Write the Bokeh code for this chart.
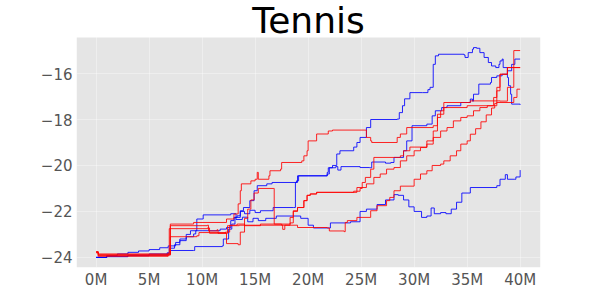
from bokeh.plotting import figure
from bokeh.models import Range1d, FixedTicker, Label, BoxAnnotation
from bokeh.embed import file_html
from bokeh.resources import INLINE

# ---- data (x in millions of steps, y = score) ----
b1_x = [0, 1, 3, 5, 6.7, 7.0, 9.2, 9.3, 11.9, 12.0, 12.5, 12.8, 13.1, 13.6, 13.9, 14.5, 14.9, 15.2, 16.1, 16.6, 18.9, 19.1, 21.8, 21.9, 22.3, 22.7, 23.0, 24.3, 24.6, 24.9, 25.5, 25.9, 28.4, 28.6, 28.9, 29.1, 29.6, 30.8, 31.3, 31.5, 31.8, 32.0, 32.3, 34.7, 34.8, 35.1, 35.5, 35.6, 35.9, 36.2, 36.6, 37.0, 37.3, 37.7, 38.0, 38.1, 38.3, 38.4, 38.8, 38.9, 39.1, 39.2, 40]
b1_y = [-24.0, -23.97, -23.93, -23.9, -23.85, -23.7, -23.7, -23.53, -23.5, -23.2, -22.77, -22.55, -22.26, -21.97, -21.83, -21.53, -21.1, -20.88, -20.8, -20.74, -20.67, -20.45, -20.3, -20.1, -20.0, -19.5, -19.36, -19.2, -19.0, -18.78, -18.35, -18.0, -17.98, -17.7, -17.4, -17.1, -16.83, -16.83, -16.7, -16.6, -15.6, -15.23, -15.16, -15.19, -15.3, -15.09, -14.94, -14.87, -14.9, -15.09, -15.3, -15.52, -15.67, -15.74, -15.6, -15.45, -15.37, -15.74, -16.17, -16.53, -16.9, -17.33, -17.36]

b2_x = [0, 1, 3, 5, 6.7, 6.9, 7.4, 7.9, 8.5, 9.2, 9.4, 11.7, 12.3, 12.7, 13.0, 13.3, 13.6, 14.0, 14.5, 15.0, 15.5, 16.7, 18.6, 18.8, 19.0, 21.8, 22.0, 22.6, 22.8, 23.1, 24.9, 25.8, 26.0, 27.3, 27.8, 28.1, 29.0, 29.3, 29.8, 31.2, 31.7, 32.0, 32.6, 33.1, 34.4, 35.3, 35.5, 35.6, 36.1, 37.2, 37.3, 37.8, 38.3, 38.8, 39.2, 39.5, 40]
b2_y = [-24.0, -23.95, -23.9, -23.85, -23.8, -23.6, -23.45, -23.27, -23.1, -22.98, -22.84, -22.77, -22.7, -22.4, -22.26, -22.19, -22.0, -22.1, -21.95, -22.05, -21.97, -21.83, -21.83, -20.74, -20.45, -20.37, -20.1, -20.05, -20.2, -20.05, -20.09, -20.1, -19.85, -19.9, -19.87, -19.65, -19.36, -18.93, -18.27, -18.2, -17.84, -17.62, -17.48, -17.4, -17.26, -17.11, -17.2, -16.9, -16.46, -16.39, -16.17, -16.1, -16.03, -15.88, -15.6, -15.37, -15.37]

b3_x = [0, 1, 2, 3, 4, 5, 6, 6.8, 7.5, 7.9, 8.5, 8.9, 9.5, 10.1, 12.7, 13.2, 13.8, 14.3, 14.8, 15.3, 16, 17, 19.3, 20, 20.5, 21.8, 22.1, 24, 24.9, 25.5, 26.5, 27.3, 28.1, 28.5, 29, 29.5, 30, 30.7, 31.2, 31.6, 31.9, 32.5, 33, 33.5, 34, 34.5, 35.3, 37.8, 38.1, 38.6, 38.8, 39.5, 39.6, 40]
b3_y = [-24.0, -23.92, -23.85, -23.78, -23.72, -23.66, -23.58, -23.5, -23.35, -23.2, -23.0, -22.84, -22.33, -22.15, -22.1, -22.35, -22.25, -22.45, -22.3, -22.4, -22.3, -22.2, -22.3, -22.6, -22.72, -22.72, -22.5, -22.45, -22.0, -21.9, -21.7, -21.5, -21.27, -21.3, -21.5, -21.8, -22.0, -22.26, -22.2, -21.85, -22.1, -22.05, -22.1, -21.9, -21.6, -21.2, -20.96, -20.88, -20.6, -20.4, -20.6, -20.6, -20.5, -20.2]

r1_x = [0, 0.2, 6.8, 7.0, 9.2, 12.3, 13.0, 13.4, 13.6, 13.7, 14.6, 15.0, 15.2, 15.3, 16.3, 16.4, 17.4, 17.5, 19.4, 19.6, 19.9, 20.0, 20.8, 21.9, 22.3, 25.5, 25.9, 26.0, 28.4, 28.7, 29.3, 31.8, 32.2, 32.8, 35.3, 38.1, 38.8, 39.4, 40]
r1_y = [-23.75, -23.88, -23.85, -22.55, -22.48, -22.33, -22.11, -21.67, -21.1, -20.8, -20.67, -20.6, -20.3, -20.6, -20.45, -20.23, -20.16, -19.87, -19.8, -19.58, -19.36, -18.93, -18.63, -18.5, -18.46, -18.78, -18.93, -19.0, -18.78, -18.63, -18.35, -18.27, -17.77, -17.26, -17.19, -17.2, -16.6, -15.0, -15.0]

r2_x = [0, 0.2, 6.8, 6.9, 10.5, 10.7, 12.2, 12.4, 13.5, 18.2, 18.3, 18.6, 19.0, 19.6, 19.9, 20.2, 20.8, 24.0, 24.6, 25.5, 26.2, 26.8, 27.4, 28.1, 28.7, 29.3, 30.0, 30.6, 31.2, 31.8, 32.5, 33.1, 33.7, 34.4, 35.0, 35.6, 36.2, 36.9, 37.8, 39.4, 39.7, 40]
r2_y = [-23.78, -23.85, -23.82, -22.75, -22.72, -22.95, -22.9, -22.62, -22.6, -22.6, -22.26, -21.97, -21.83, -21.53, -21.3, -21.24, -21.17, -21.17, -20.96, -20.8, -20.52, -20.37, -20.16, -20.09, -19.8, -19.58, -19.36, -19.22, -18.93, -18.78, -18.5, -18.35, -18.06, -17.91, -17.84, -17.62, -17.48, -17.4, -17.26, -17.04, -16.68, -16.68]

r3_x = [0, 0.2, 6.8, 7.0, 9.5, 9.7, 12.2, 12.3, 13.4, 13.6, 14.0, 14.3, 14.6, 14.9, 15.3, 16.7, 16.8, 18.3, 18.6, 19.0, 19.6, 19.9, 20.2, 20.8, 24.3, 24.9, 25.1, 25.4, 25.9, 26.2, 28.7, 29.0, 29.6, 31.2, 31.8, 32.2, 32.5, 32.8, 35.0, 37.5, 37.8, 38.1, 38.8, 40]
r3_y = [-23.8, -23.95, -23.9, -23.1, -23.06, -22.92, -22.95, -23.4, -23.45, -22.9, -22.3, -21.9, -21.5, -21.2, -21.0, -21.0, -22.55, -22.5, -22.0, -21.83, -21.53, -21.3, -21.24, -21.17, -21.12, -21.0, -20.74, -20.52, -20.16, -19.65, -19.58, -19.36, -19.2, -19.07, -18.5, -17.91, -17.62, -17.48, -17.4, -17.04, -16.75, -16.03, -15.74, -15.74]

r4_x = [0, 0.2, 6.8, 7.0, 10.5, 10.6, 11.4, 11.5, 12.4, 12.6, 13.3, 14.0, 15.5, 17.5, 17.6, 17.8, 19.0, 21.8, 22.0, 23.4, 23.5, 23.7, 24.6, 25.9, 26.5, 27.4, 27.7, 28.1, 28.7, 30.0, 30.6, 31.2, 31.7, 32.5, 32.8, 33.4, 34.0, 34.4, 35.0, 35.3, 35.8, 36.3, 36.8, 37.3, 37.6, 37.8, 38.1, 38.8, 40]
r4_y = [-23.76, -23.92, -23.88, -22.62, -22.6, -22.85, -22.8, -22.95, -22.9, -22.6, -22.55, -22.62, -22.55, -22.6, -22.78, -22.6, -22.7, -22.72, -22.85, -22.88, -22.48, -22.4, -22.26, -21.97, -21.75, -21.53, -21.39, -21.1, -20.9, -20.6, -20.37, -20.23, -20.0, -19.94, -19.8, -19.58, -19.36, -19.07, -18.93, -18.64, -18.4, -18.1, -17.8, -17.5, -17.3, -16.6, -16.03, -15.74, -15.74]

blue_series = [(b1_x, b1_y), (b2_x, b2_y), (b3_x, b3_y)]
red_series = [(r1_x, r1_y), (r2_x, r2_y), (r3_x, r3_y), (r4_x, r4_y)]

x_ticks = [0, 5, 10, 15, 20, 25, 30, 35, 40]
x_tick_labels = ["0M", "5M", "10M", "15M", "20M", "25M", "30M", "35M", "40M"]
y_ticks = [-24, -22, -20, -18, -16]
y_tick_labels = ["\u221224", "\u221222", "\u221220", "\u221218", "\u221216"]
title_text = "Tennis"

# plotting-area limits (the grey panel) and pixel scale
X0, X1 = -1.85, 41.92
Y0, Y1 = -24.44, -14.43
PX_PER_UNIT = 23.0
TOP_MARGIN_PX = 37          # room for the title above the grey panel
Y_TOP = Y1 + TOP_MARGIN_PX / PX_PER_UNIT

p = figure(width=592, height=292, output_backend="svg", toolbar_location=None,
           x_range=Range1d(X0, X1), y_range=Range1d(Y0, Y_TOP),
           min_border_left=76, min_border_right=52, min_border_top=0, min_border_bottom=25)
p.background_fill_color = "white"
p.border_fill_color = "white"
p.outline_line_color = None

# grey panel drawn beneath the grid
panel = BoxAnnotation(bottom=Y0, top=Y1, fill_color="#E5E5E5", fill_alpha=1.0,
                      line_color=None, level="image")
p.add_layout(panel)

for ax in (p.xaxis[0], p.yaxis[0]):
    ax.axis_line_color = None
    ax.major_tick_line_color = None
    ax.minor_tick_line_color = None
    ax.major_tick_out = 0
    ax.major_tick_in = 0
    ax.major_label_text_font = "DejaVu Sans"
    ax.major_label_text_font_size = "15px"
    ax.major_label_text_color = "#555555"

p.xaxis.ticker = FixedTicker(ticks=x_ticks)
p.xaxis.major_label_overrides = {t: l for t, l in zip(x_ticks, x_tick_labels)}
p.xaxis.major_label_standoff = 3
p.yaxis.ticker = FixedTicker(ticks=y_ticks)
p.yaxis.major_label_standoff = 4
p.yaxis.major_label_overrides = {t: l for t, l in zip(y_ticks, y_tick_labels)}

p.grid.grid_line_color = "white"
p.grid.grid_line_alpha = 0.35
p.grid.grid_line_width = 1

for xs, ys in blue_series:
    p.step(xs, ys, mode="after", line_color="blue", line_width=1, line_alpha=0.85)
for xs, ys in red_series:
    p.step(xs, ys, mode="after", line_color="red", line_width=1, line_alpha=0.85)

title = Label(x=(X0 + X1) / 2, y=Y1 + 17.4 / PX_PER_UNIT, x_units="data", y_units="data",
              text=title_text, text_align="center", text_baseline="alphabetic",
              text_font="DejaVu Sans", text_font_size="36px", text_color="black")
p.add_layout(title)

open("out.html", "w").write(file_html(p, INLINE))
